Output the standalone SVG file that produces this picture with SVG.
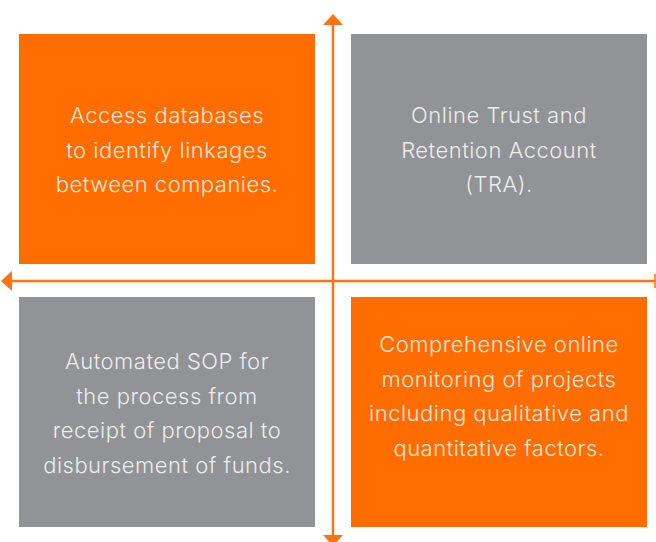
<svg xmlns="http://www.w3.org/2000/svg" width="656" height="542" viewBox="0 0 656 542">
<defs>
<style>
.or{fill:#FF6D00}
.gr{fill:#929396}
.t{font-family:Inter,"Liberation Sans",sans-serif;font-weight:300;font-size:22px;letter-spacing:0.5px;fill:#ffffff;fill-opacity:0.85;text-anchor:middle}
.ax{stroke:#FF7310;stroke-width:2.5;fill:none}
.ah{fill:#FF7310}
</style>
</defs>
<rect width="656" height="542" fill="#ffffff"/>
<g id="connectors">
<line class="ax" x1="333" y1="22" x2="333" y2="535"/>
<polygon class="ah" points="333,14 343,25 323,25"/>
<polygon class="ah" points="333,546 343,535 323,535"/>
<line class="ax" x1="9" y1="281" x2="655" y2="281"/>
<polygon class="ah" points="1,281 12,271 12,291"/>
<line x1="655" y1="274" x2="655" y2="288" stroke="#FF7310" stroke-width="1.5"/>
</g>
<g id="node-tl">
<rect class="or" x="19" y="34" width="296" height="230"/>
<text class="t" x="167" y="123">Access databases</text>
<text class="t" x="167" y="157.5">to identify linkages</text>
<text class="t" x="167" y="192">between companies.</text>
</g>
<g id="node-tr">
<rect class="gr" x="351" y="34" width="296" height="230"/>
<text class="t" x="499" y="123">Online Trust and</text>
<text class="t" x="499" y="157.5">Retention Account</text>
<text class="t" x="499" y="192">(TRA).</text>
</g>
<g id="node-bl">
<rect class="gr" x="19" y="297" width="296" height="230"/>
<text class="t" x="167" y="369">Automated SOP for</text>
<text class="t" x="167" y="403.5">the process from</text>
<text class="t" x="167" y="438">receipt of proposal to</text>
<text class="t" x="167" y="472.5">disbursement of funds.</text>
</g>
<g id="node-br">
<rect class="or" x="351" y="297" width="296" height="230"/>
<text class="t" x="499" y="352">Comprehensive online</text>
<text class="t" x="499" y="386.5">monitoring of projects</text>
<text class="t" x="499" y="421">including qualitative and</text>
<text class="t" x="499" y="455.5">quantitative factors.</text>
</g>
</svg>
